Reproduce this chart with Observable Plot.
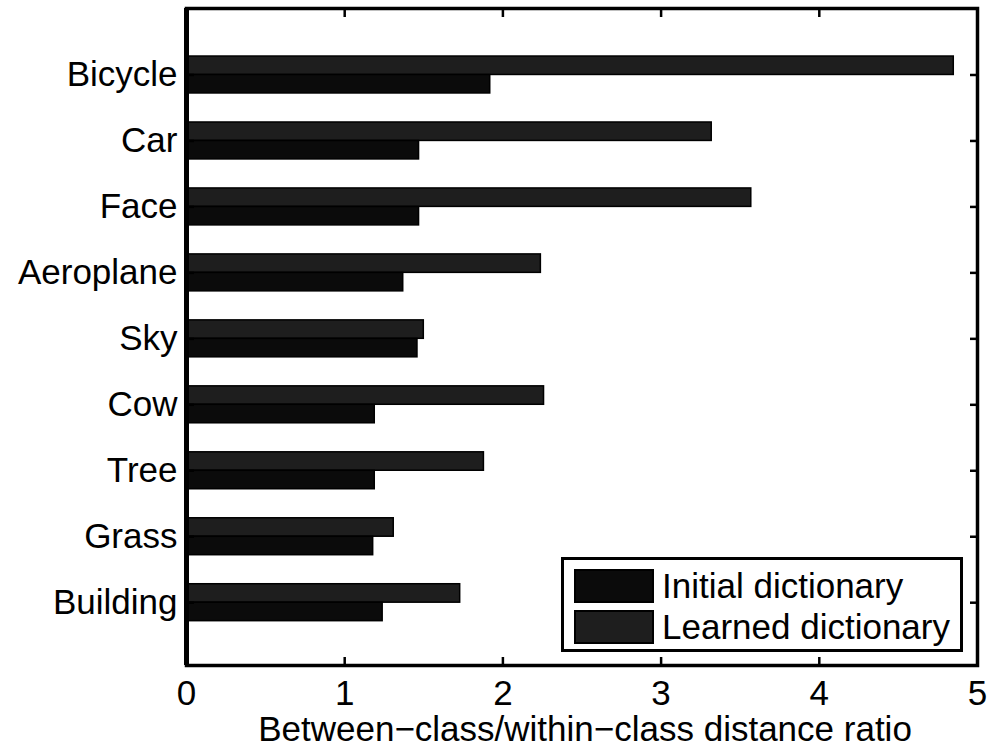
<!DOCTYPE html>
<html>
<head>
<meta charset="utf-8">
<script src="https://cdn.jsdelivr.net/npm/d3@7"></script>
<script src="https://cdn.jsdelivr.net/npm/@observablehq/plot@0.6"></script>
<style>
  body { margin: 0; background: #fff; }
  #wrap { position: relative; width: 993px; height: 747px; font-family: "Liberation Sans", Arial, sans-serif; }
  #legend { position: absolute; left: 561px; top: 557px; width: 396px; height: 89px; border: 3px solid #000; background: #fff; }
  .lrow { position: absolute; left: 10px; height: 37px; display: flex; align-items: center; }
  .lsw { width: 80px; height: 34px; border: 2px solid #000; box-sizing: border-box; margin-right: 8px; }
  .ltxt { font-size: 35px; color: #000; white-space: nowrap; line-height: 37px; }
</style>
</head>
<body>
<div id="wrap"></div>
<script>
const categories = ["Bicycle", "Car", "Face", "Aeroplane", "Sky", "Cow", "Tree", "Grass", "Building"];
const learned = [4.85, 3.32, 3.57, 2.24, 1.50, 2.26, 1.88, 1.31, 1.73];
const initial = [1.92, 1.47, 1.47, 1.37, 1.46, 1.19, 1.19, 1.18, 1.24];
const seriesNames = ["Initial dictionary", "Learned dictionary"];
const seriesColors = ["#0b0b0b", "#1e1e1e"];
const xTicks = [0, 1, 2, 3, 4, 5];
const xLabel = "Between\u2212class/within\u2212class distance ratio";

const rows = categories.map((c, i) => ({category: c, initial: initial[i], learned: learned[i]}));

const chart = Plot.plot({
  width: 993,
  height: 747,
  marginLeft: 186,
  marginRight: 16,
  marginTop: 8,
  marginBottom: 82,
  style: {fontFamily: "Liberation Sans, Arial, sans-serif", fontSize: "35px", color: "#000", background: "#fff", overflow: "visible"},
  x: {domain: [0, 5]},
  y: {domain: categories, paddingInner: 0.44, paddingOuter: 0.7, align: 0.52, round: false},
  marks: [
    Plot.barX(rows, {x: "learned", y: "category", fill: seriesColors[1], stroke: "#000", strokeWidth: 1.5, insetBottom: 18.5}),
    Plot.barX(rows, {x: "initial", y: "category", fill: seriesColors[0], stroke: "#000", strokeWidth: 1.5, insetTop: 18.5}),
    Plot.frame({stroke: "#000", strokeWidth: 3.5}),
    Plot.ruleX([0], {stroke: "#000", strokeWidth: 5}),
    Plot.axisX(xTicks, {anchor: "bottom", tickSize: -8, tickPadding: 23, strokeWidth: 2.5, tickFormat: d3.format("d"), label: null}),
    Plot.axisX(xTicks, {anchor: "top", tickSize: -8, strokeWidth: 2.5, tickFormat: () => "", label: null}),
    Plot.axisY({anchor: "left", tickSize: -8, tickPadding: 17, strokeWidth: 2.5, label: null}),
    Plot.axisY({anchor: "right", tickSize: -8, strokeWidth: 2.5, tickFormat: () => "", label: null}),
    Plot.text([xLabel], {text: d => d, frameAnchor: "bottom", dx: 3, dy: 75, lineAnchor: "bottom", fontSize: 35})
  ]
});

const wrap = document.getElementById("wrap");
wrap.appendChild(chart);

const legend = document.createElement("div");
legend.id = "legend";
seriesNames.forEach((name, i) => {
  const row = document.createElement("div");
  row.className = "lrow";
  row.style.top = (7 + i * 41) + "px";
  const sw = document.createElement("div");
  sw.className = "lsw";
  sw.style.background = seriesColors[i];
  const t = document.createElement("span");
  t.className = "ltxt";
  t.textContent = name;
  row.appendChild(sw);
  row.appendChild(t);
  legend.appendChild(row);
});
wrap.appendChild(legend);
</script>
</body>
</html>
